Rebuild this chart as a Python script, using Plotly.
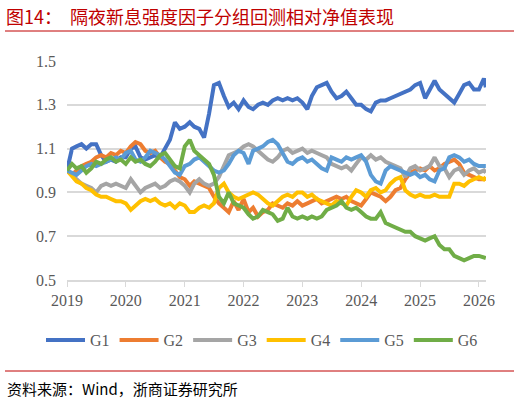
import pandas as pd
import plotly.graph_objects as go

# monthly readings, Jan 2019 .. Feb 2026, plus last day
dates = list(pd.date_range("2019-01-01", "2026-02-01", freq="MS").strftime("%Y-%m-%d")) + ["2026-02-13"]

g1 = [1.00, 1.10, 1.11, 1.12, 1.10, 1.12, 1.12, 1.07, 1.04, 1.05, 1.04, 1.06,
      1.06, 1.10, 1.11, 1.06, 1.05, 1.06, 1.07, 1.06, 1.10, 1.14, 1.22, 1.19,
      1.20, 1.22, 1.20, 1.19, 1.15, 1.26, 1.39, 1.40, 1.34, 1.29, 1.31, 1.28,
      1.32, 1.29, 1.28, 1.30, 1.31, 1.30, 1.32, 1.33, 1.32, 1.33, 1.32, 1.33,
      1.31, 1.28, 1.34, 1.38, 1.39, 1.40, 1.36, 1.33, 1.34, 1.36, 1.33, 1.30,
      1.30, 1.28, 1.27, 1.31, 1.32, 1.32, 1.33, 1.34, 1.35, 1.36, 1.37, 1.39,
      1.40, 1.33, 1.37, 1.41, 1.37, 1.35, 1.33, 1.31, 1.35, 1.39, 1.40, 1.37,
      1.37, 1.42, 1.38]
g2 = [1.00, 0.98, 1.00, 1.02, 1.03, 1.04, 1.06, 1.07, 1.06, 1.08, 1.07, 1.09,
      1.08, 1.11, 1.13, 1.12, 1.09, 1.08, 1.09, 1.06, 1.04, 1.03, 1.00, 0.97,
      0.96, 0.93, 0.95, 0.94, 0.93, 0.92, 0.88, 0.85, 0.83, 0.81, 0.86, 0.82,
      0.87, 0.81, 0.83, 0.79, 0.81, 0.82, 0.85, 0.84, 0.83, 0.85, 0.84, 0.86,
      0.84, 0.85, 0.86, 0.87, 0.85, 0.86, 0.87, 0.88, 0.87, 0.88, 0.86, 0.85,
      0.84, 0.87, 0.90, 0.89, 0.88, 0.86, 0.88, 0.91, 0.92, 0.96, 0.99, 1.00,
      1.01, 1.00, 1.02, 1.00, 1.01, 1.03, 1.04, 1.05, 1.03, 0.99, 0.98, 0.97,
      0.96, 0.96, 0.965]
g3 = [1.00, 0.98, 0.96, 0.94, 0.93, 0.92, 0.90, 0.93, 0.94, 0.93, 0.94, 0.93,
      0.92, 0.96, 0.93, 0.90, 0.92, 0.93, 0.94, 0.92, 0.93, 0.95, 0.96, 0.95,
      0.93, 0.90, 0.94, 0.96, 0.94, 0.93, 0.94, 0.97, 1.02, 1.07, 1.08, 1.09,
      1.11, 1.12, 1.11, 1.09, 1.07, 1.05, 1.04, 1.06, 1.09, 1.10, 1.08, 1.09,
      1.10, 1.08, 1.09, 1.08, 1.07, 1.06, 1.03, 1.02, 1.01, 1.02, 1.00, 1.03,
      1.06, 1.05, 1.07, 1.05, 1.06, 1.04, 1.03, 1.02, 1.01, 0.97, 1.01, 1.02,
      1.00, 1.01, 1.02, 1.06, 1.02, 1.01, 0.97, 1.00, 1.01, 0.98, 1.00, 1.01,
      0.99, 1.00, 0.99]
g4 = [1.00, 0.97, 0.95, 0.94, 0.92, 0.91, 0.89, 0.88, 0.88, 0.87, 0.86, 0.86,
      0.85, 0.82, 0.84, 0.86, 0.87, 0.86, 0.87, 0.85, 0.84, 0.85, 0.83, 0.85,
      0.84, 0.81, 0.81, 0.83, 0.84, 0.83, 0.85, 0.92, 0.94, 0.90, 0.88, 0.87,
      0.88, 0.89, 0.90, 0.89, 0.87, 0.85, 0.84, 0.86, 0.88, 0.89, 0.88, 0.90,
      0.90, 0.88, 0.89, 0.87, 0.86, 0.85, 0.84, 0.86, 0.85, 0.84, 0.88, 0.91,
      0.90, 0.88, 0.91, 0.92, 0.90, 0.91, 0.94, 0.96, 0.97, 0.91, 0.89, 0.88,
      0.89, 0.88, 0.88, 0.89, 0.88, 0.88, 0.88, 0.94, 0.94, 0.93, 0.95, 0.96,
      0.97, 0.96, 0.97]
g5 = [1.00, 0.99, 0.98, 1.00, 1.02, 1.03, 1.02, 1.03, 1.04, 1.05, 1.06, 1.05,
      1.08, 1.09, 1.05, 1.04, 1.06, 1.09, 1.08, 1.07, 1.05, 1.02, 0.99, 0.98,
      1.02, 1.03, 1.05, 1.06, 1.04, 1.02, 1.00, 0.99, 1.00, 1.03, 1.07, 1.09,
      1.08, 1.03, 1.09, 1.10, 1.11, 1.13, 1.14, 1.12, 1.08, 1.04, 1.03, 1.05,
      1.06, 1.04, 1.05, 1.03, 1.01, 1.00, 1.06, 1.05, 1.04, 1.06, 1.05, 1.06,
      1.07, 1.04, 0.98, 0.95, 0.94, 1.00, 1.02, 1.01, 1.00, 0.99, 0.98, 0.99,
      0.97, 0.98, 0.96, 0.95, 1.00, 1.01, 1.06, 1.07, 1.06, 1.04, 1.05, 1.03,
      1.02, 1.02, 1.02]
g6 = [1.00, 1.03, 1.01, 1.02, 0.99, 1.01, 1.04, 1.03, 1.05, 1.06, 1.04, 1.05,
      1.03, 1.06, 1.04, 1.05, 1.03, 1.02, 1.04, 1.07, 1.08, 1.05, 1.02, 1.01,
      1.11, 1.14, 1.09, 1.07, 1.05, 1.03, 0.98, 0.88, 0.85, 0.90, 0.85, 0.84,
      0.83, 0.80, 0.78, 0.79, 0.82, 0.81, 0.80, 0.77, 0.78, 0.83, 0.79, 0.78,
      0.79, 0.78, 0.79, 0.78, 0.79, 0.82, 0.83, 0.84, 0.86, 0.83, 0.82, 0.83,
      0.81, 0.79, 0.78, 0.78, 0.81, 0.76, 0.75, 0.74, 0.73, 0.72, 0.72, 0.70,
      0.69, 0.68, 0.69, 0.70, 0.66, 0.64, 0.64, 0.61, 0.60, 0.59, 0.60, 0.61,
      0.61, 0.60, 0.60]

names = ["G1", "G2", "G3", "G4", "G5", "G6"]
colors = ["#4472C4", "#ED7D31", "#A5A5A5", "#FFC000", "#5B9BD5", "#70AD47"]
years = ["2019", "2020", "2021", "2022", "2023", "2024", "2025", "2026"]

fig = go.Figure()
for name, vals, col in zip(names, [g1, g2, g3, g4, g5, g6], colors):
    fig.add_trace(go.Scatter(x=dates, y=vals, name=name, mode="lines",
                             line=dict(color=col, width=4)))

serif = "Liberation Serif"
cjk = "Noto Sans CJK SC"

# positions below are in reference pixels
h = 219.0
w = 419.0
def px(xp):
    return (xp - 67) / w
def py(yp):
    return (280 - yp) / h

fig.update_layout(
    width=520, height=402,
    margin=dict(l=67, r=34, t=61, b=122),
    paper_bgcolor="white", plot_bgcolor="white",
    showlegend=True,
    legend=dict(orientation="h", x=px(41), xanchor="left", y=py(340), yanchor="middle",
                font=dict(family=serif, size=16, color="#595959"),
                itemwidth=39, tracegroupgap=0),
)
fig.update_xaxes(range=["2019-01-01", "2026-02-14"],
                 tickvals=[y + "-01-01" for y in years], ticktext=years,
                 showgrid=False, showline=True, linecolor="#D9D9D9", linewidth=1.5,
                 ticks="outside", ticklen=5, tickcolor="#D9D9D9",
                 tickfont=dict(family=serif, size=16, color="#595959"))
fig.update_yaxes(range=[0.5, 1.5], tick0=0.5, dtick=0.2, tickformat=".1f",
                 showgrid=True, gridcolor="#D9D9D9", gridwidth=1.5,
                 zeroline=False, showline=False, ticklabelstandoff=10,
                 tickfont=dict(family=serif, size=16, color="#595959"))

# header, rules and source line
fig.add_annotation(text="图14：  隔夜新息强度因子分组回测相对净值表现", xref="paper", yref="paper",
                   x=px(4), y=py(16), xanchor="left", yanchor="middle", showarrow=False,
                   font=dict(family=cjk, size=18, color="#C00000"))
fig.add_annotation(text="资料来源：Wind，浙商证券研究所", xref="paper", yref="paper",
                   x=px(5), y=py(388), xanchor="left", yanchor="middle", showarrow=False,
                   font=dict(family=cjk, size=15, color="#000000"))
fig.add_shape(type="line", xref="paper", yref="paper", x0=px(5), x1=px(514),
              y0=py(31), y1=py(31), line=dict(color="#C00000", width=1))
fig.add_shape(type="line", xref="paper", yref="paper", x0=px(5), x1=px(514),
              y0=py(371), y1=py(371), line=dict(color="#C00000", width=1))

# drop the browser's default body margin so the figure sits at the page corner
fig.write_html("out.html", config={"displayModeBar": False},
               post_script="document.body.style.margin='0';")
